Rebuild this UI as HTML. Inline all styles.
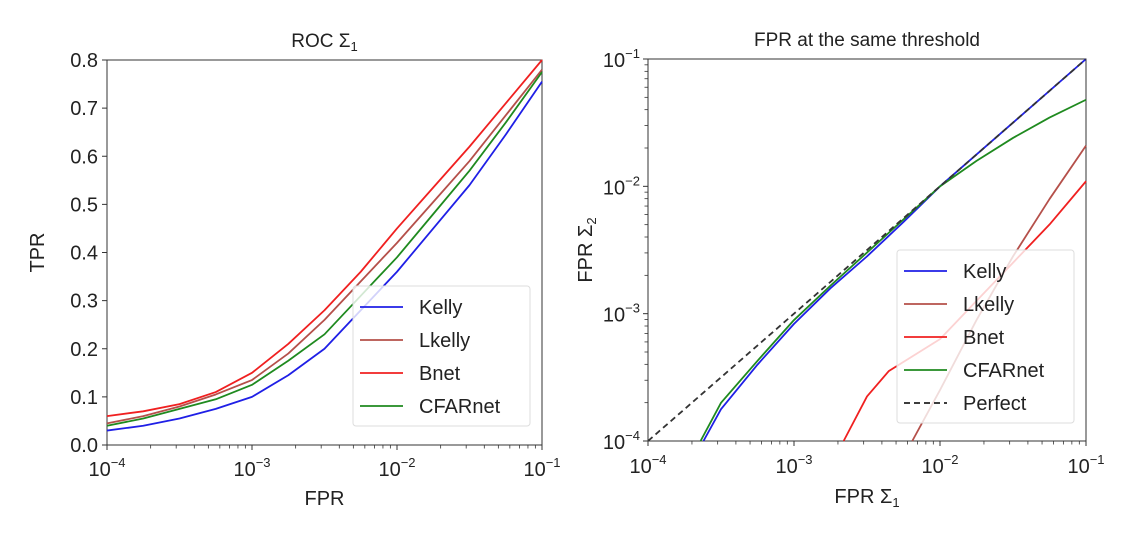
<!DOCTYPE html>
<html><head><meta charset="utf-8"><style>
body{margin:0;background:#fff;}
svg text{font-family:"Liberation Sans","DejaVu Sans",sans-serif;fill:#222;}
</style></head><body>
<svg id="s" width="1122" height="528"></svg>
<script>
const roc_x=[-4,-3.75,-3.5,-3.25,-3,-2.75,-2.5,-2.25,-2,-1.75,-1.5,-1.25,-1];
const roc_kelly=[0.03,0.04,0.055,0.075,0.10,0.145,0.20,0.28,0.36,0.45,0.54,0.645,0.755];
const roc_lkelly=[0.045,0.06,0.08,0.105,0.135,0.19,0.26,0.34,0.42,0.505,0.59,0.685,0.78];
const roc_bnet=[0.06,0.07,0.085,0.11,0.15,0.21,0.28,0.36,0.45,0.535,0.62,0.71,0.80];
const roc_cfar=[0.04,0.055,0.075,0.095,0.125,0.175,0.23,0.31,0.39,0.48,0.57,0.67,0.775];
const fpr_kelly_x=[-3.62,-3.5,-3.25,-3,-2.75,-2.5,-2.25,-2,-1.5,-1];
const fpr_kelly_y=[-4,-3.75,-3.4,-3.08,-2.8,-2.55,-2.28,-2.0,-1.5,-1];
const fpr_cfar_x=[-3.64,-3.5,-3.25,-3,-2.75,-2.5,-2.25,-2,-1.75,-1.5,-1.25,-1];
const fpr_cfar_y=[-4,-3.7,-3.37,-3.05,-2.78,-2.52,-2.26,-2.0,-1.8,-1.62,-1.46,-1.32];
const fpr_bnet_x=[-2.66,-2.5,-2.35,-2,-1.75,-1.5,-1.25,-1];
const fpr_bnet_y=[-4,-3.65,-3.45,-3.2,-2.9,-2.6,-2.3,-1.96];
const fpr_lkelly_x=[-2.19,-2,-1.75,-1.5,-1.25,-1];
const fpr_lkelly_y=[-4,-3.6,-3.05,-2.55,-2.1,-1.68];
const colors={kelly:"#1f1fe6",lkelly:"#b5504a",bnet:"#f02020",cfar:"#1f8a1f"};

const NS="http://www.w3.org/2000/svg",svg=document.getElementById('s');
function el(t,a,p){const e=document.createElementNS(NS,t);for(const k in a)e.setAttribute(k,a[k]);(p||svg).appendChild(e);return e;}
function txt(x,y,s,a,p){const e=el('text',Object.assign({x:x,y:y},a),p);e.innerHTML=s;return e;}
const L={x0:107,x1:542,y0:445,y1:60}, R={x0:648,x1:1086,y0:441,y1:59};
const lx=v=>L.x0+(v+4)/3*(L.x1-L.x0), ly=v=>L.y0-v/0.8*(L.y0-L.y1);
const rx=v=>R.x0+(v+4)/3*(R.x1-R.x0), ry=v=>R.y0-(v+4)/3*(R.y0-R.y1);
const sup=e=>`10<tspan dy="-9" font-size="13">−${e}</tspan>`;

function logTicks(g,A,fx,horiz){
  for(let d=-4;d<-1;d++)for(let m=2;m<10;m++){const v=d+Math.log10(m);
    if(horiz){el('line',{x1:fx(v),x2:fx(v),y1:A.y0,y2:A.y0+3.5,stroke:'#333','stroke-width':0.8},g);}
    else{el('line',{x1:A.x0,x2:A.x0-3.5,y1:fx(v),y2:fx(v),stroke:'#333','stroke-width':0.8},g);}}
}
function poly(xs,ys,fx,fy,c,name,p,dash){
  const e=el('polyline',{points:xs.map((x,i)=>fx(x)+','+fy(ys[i])).join(' '),fill:'none',stroke:c,'stroke-width':1.8,'stroke-dasharray':dash||'none','stroke-linejoin':'round'},p);
  
  
}
function legend(p,x,y,w,items){
  el('rect',{x:x,y:y,width:w,height:items.length*33+8,fill:'#fff','fill-opacity':0.8,stroke:'#ddd',rx:3},p);
  items.forEach((it,i)=>{const g=el('g',{},p);
    
    
    el('line',{x1:x+7,x2:x+50,y1:y+21+i*33,y2:y+21+i*33,stroke:it[1],'stroke-width':1.8,'stroke-dasharray':it[2]||'none'},g);
    txt(x+66,y+28+i*33,it[0],{'font-size':20},g);});
}
// Left
const gl=el('g',{});
el('rect',{x:L.x0,y:L.y1,width:L.x1-L.x0,height:L.y0-L.y1,fill:'none',stroke:'#333','stroke-width':1},gl);
txt((L.x0+L.x1)/2,47,'ROC Σ<tspan dy="4" font-size="13">1</tspan>',{'font-size':19,'text-anchor':'middle',},gl);
for(let i=0;i<=8;i++){const v=i/10;el('line',{x1:L.x0,x2:L.x0-5,y1:ly(v),y2:ly(v),stroke:'#333'},gl);
  txt(L.x0-9,ly(v)+7,v.toFixed(1),{'font-size':20,'text-anchor':'end'},gl);}
for(let d=-4;d<=-1;d++){el('line',{x1:lx(d),x2:lx(d),y1:L.y0,y2:L.y0+5,stroke:'#333'},gl);
  txt(lx(d),L.y0+31,sup(-d),{'font-size':20,'text-anchor':'middle'},gl);}
logTicks(gl,L,lx,true);
txt((L.x0+L.x1)/2,505,'FPR',{'font-size':20,'text-anchor':'middle',},gl);
txt(0,0,'TPR',{'font-size':20,'text-anchor':'middle',transform:`translate(44,${(L.y0+L.y1)/2}) rotate(-90)`,},gl);
poly(roc_x,roc_kelly,lx,ly,colors.kelly,'kelly-line',gl);
poly(roc_x,roc_lkelly,lx,ly,colors.lkelly,'lkelly-line',gl);
poly(roc_x,roc_bnet,lx,ly,colors.bnet,'bnet-line',gl);
poly(roc_x,roc_cfar,lx,ly,colors.cfar,'cfarnet-line',gl);
legend(gl,353,286,177,[['Kelly',colors.kelly],['Lkelly',colors.lkelly],['Bnet',colors.bnet],['CFARnet',colors.cfar]]);
// Right
const gr=el('g',{});
el('rect',{x:R.x0,y:R.y1,width:R.x1-R.x0,height:R.y0-R.y1,fill:'none',stroke:'#333','stroke-width':1},gr);
txt((R.x0+R.x1)/2,46,'FPR at the same threshold',{'font-size':19,'text-anchor':'middle',},gr);
for(let d=-4;d<=-1;d++){
  el('line',{x1:rx(d),x2:rx(d),y1:R.y0,y2:R.y0+5,stroke:'#333'},gr);
  txt(rx(d),R.y0+32,sup(-d),{'font-size':20,'text-anchor':'middle'},gr);
  el('line',{x1:R.x0,x2:R.x0-5,y1:ry(d),y2:ry(d),stroke:'#333'},gr);
  txt(R.x0-8,ry(d)+8,sup(-d),{'font-size':20,'text-anchor':'end'},gr);}
logTicks(gr,R,rx,true);logTicks(gr,R,ry,false);
txt((R.x0+R.x1)/2,503,'FPR Σ<tspan dy="4" font-size="13">1</tspan>',{'font-size':20,'text-anchor':'middle',},gr);
txt(0,0,'FPR Σ<tspan dy="4" font-size="13">2</tspan>',{'font-size':20,'text-anchor':'middle',transform:`translate(592,${(R.y0+R.y1)/2}) rotate(-90)`,},gr);
poly(fpr_lkelly_x,fpr_lkelly_y,rx,ry,colors.lkelly,'lkelly-line-right',gr);
poly(fpr_bnet_x,fpr_bnet_y,rx,ry,colors.bnet,'bnet-line-right',gr);
poly(fpr_kelly_x,fpr_kelly_y,rx,ry,colors.kelly,'kelly-line-right',gr);
poly(fpr_cfar_x,fpr_cfar_y,rx,ry,colors.cfar,'cfarnet-line-right',gr);
poly([-4,-1],[-4,-1],rx,ry,'#333','perfect-line',gr,'6,4');
legend(gr,897,250,177,[['Kelly',colors.kelly],['Lkelly',colors.lkelly],['Bnet',colors.bnet],['CFARnet',colors.cfar],['Perfect','#222','6,4']]);
</script></body></html>
